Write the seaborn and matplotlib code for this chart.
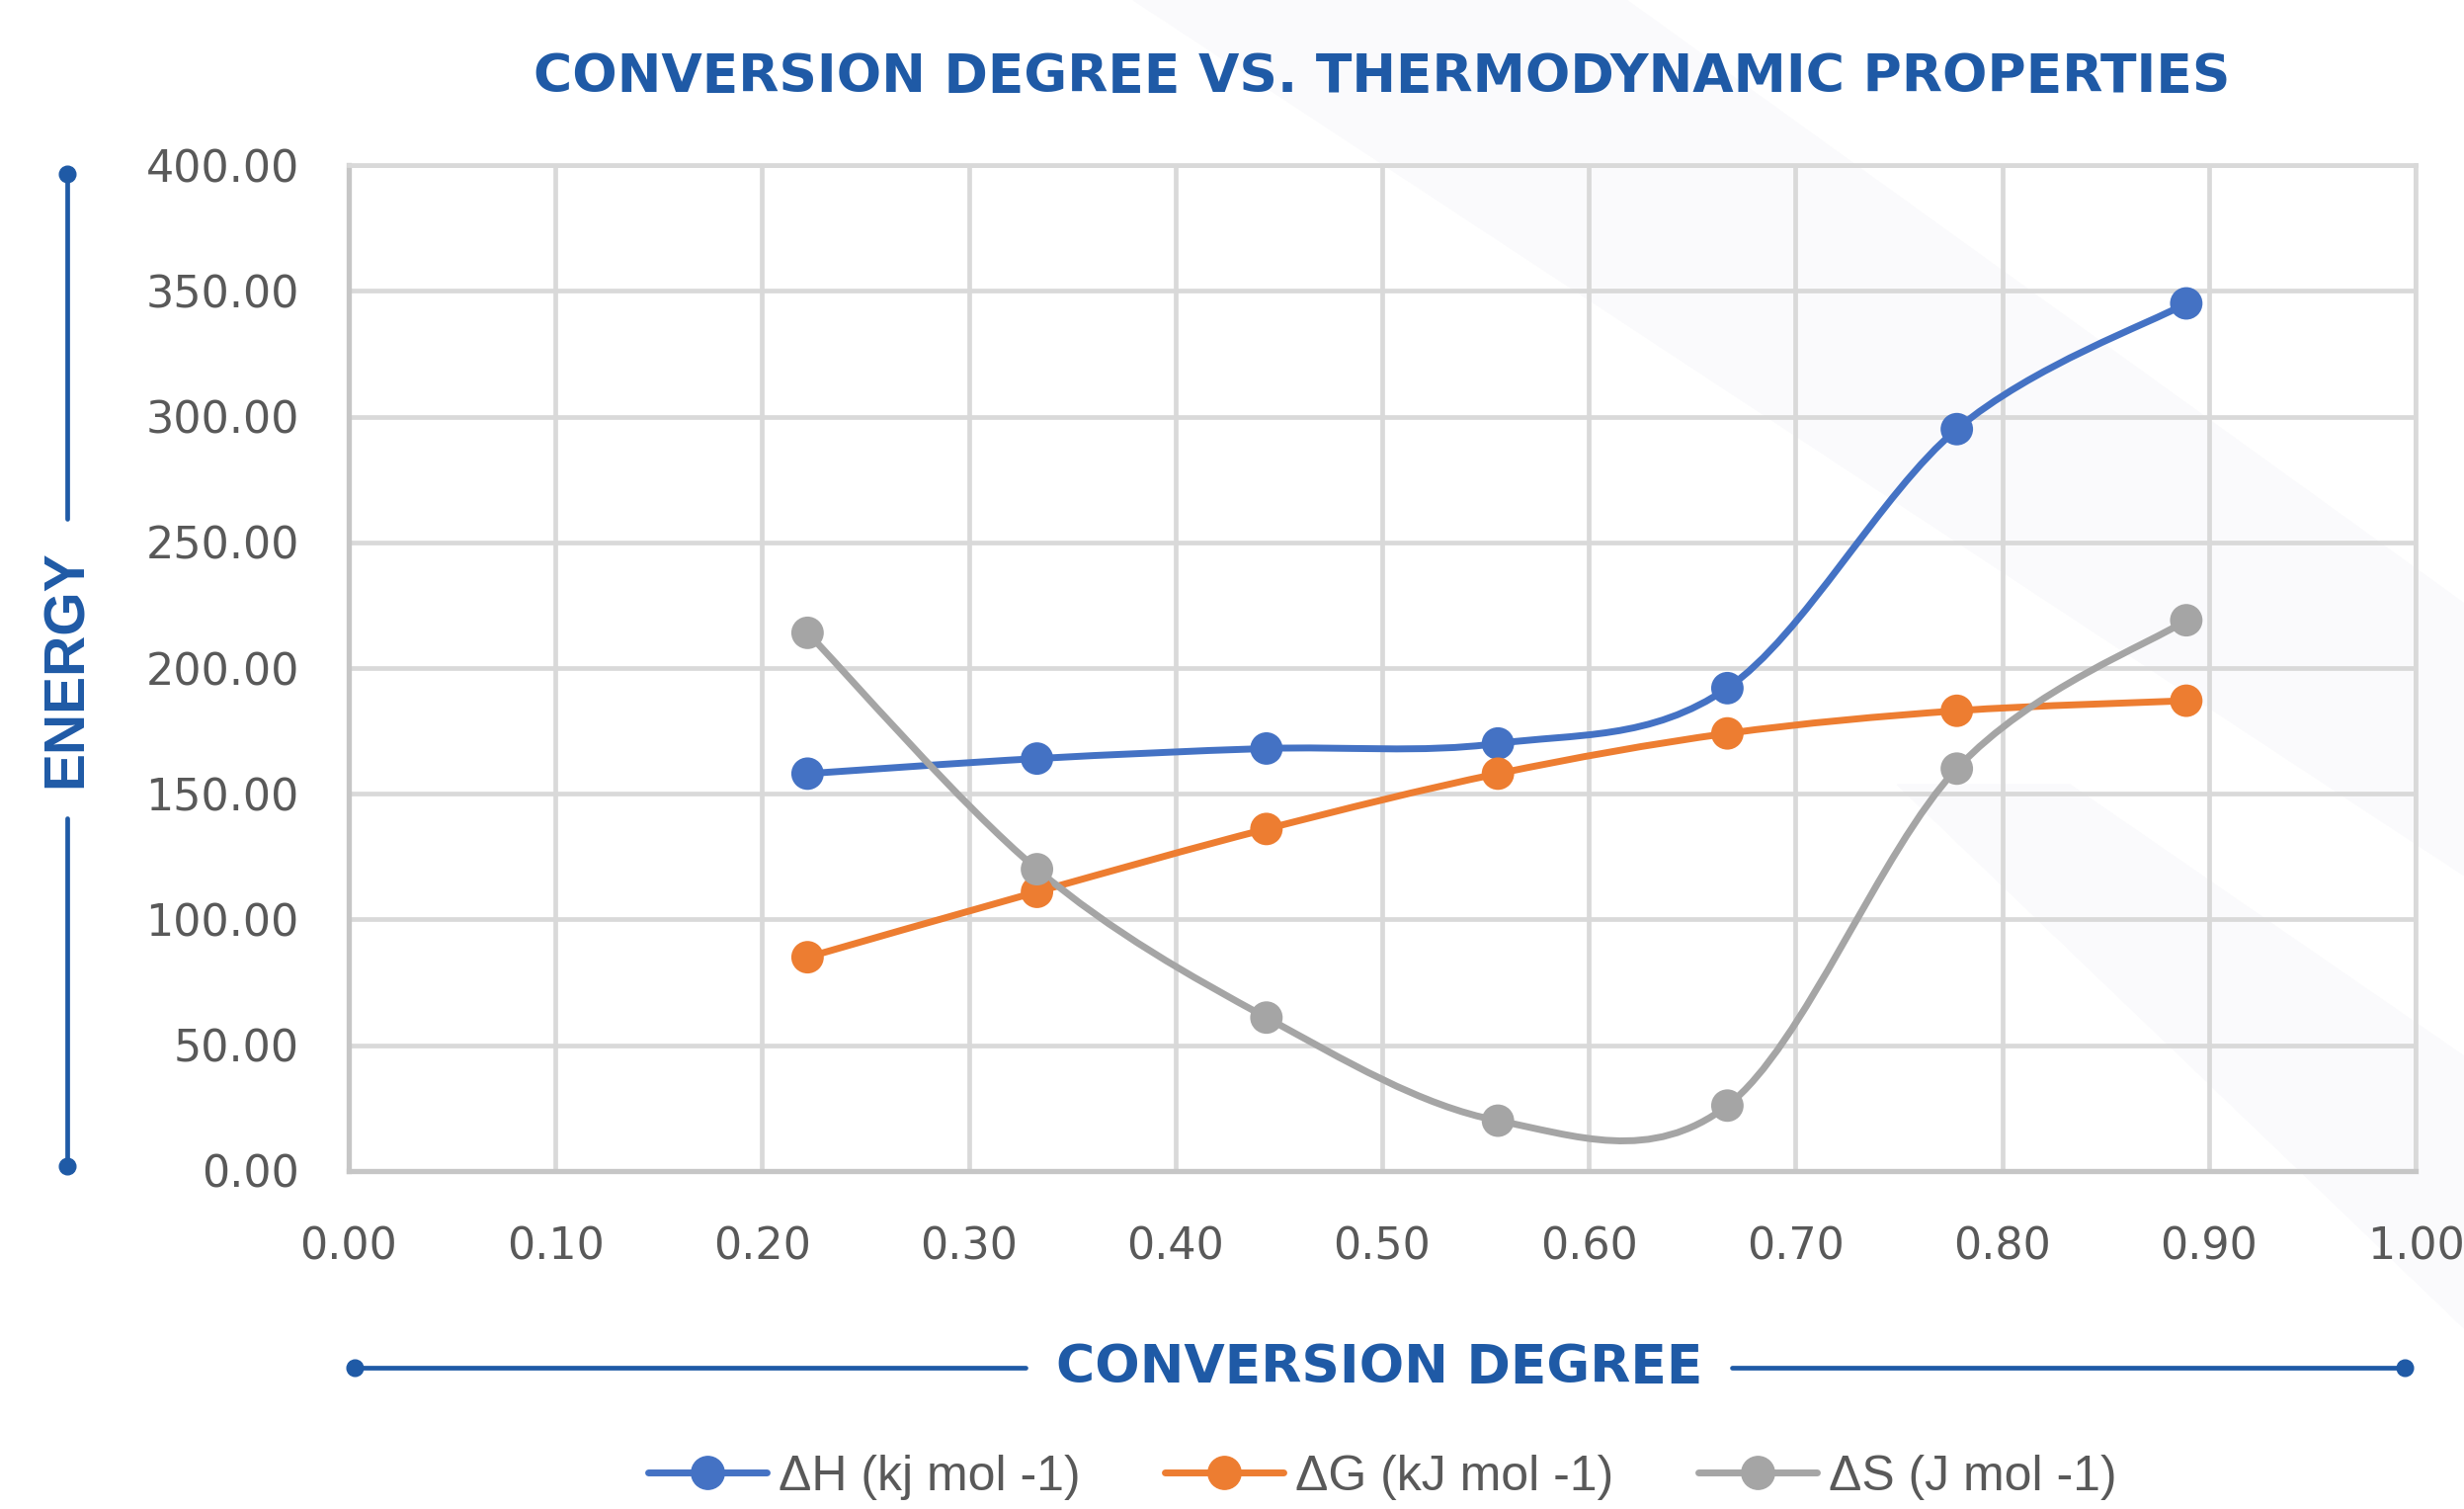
import numpy as np
import pandas as pd
import matplotlib
matplotlib.use("Agg")
import matplotlib.pyplot as plt
import seaborn as sns
from matplotlib.path import Path
from matplotlib.patches import PathPatch, Polygon
from matplotlib.lines import Line2D
from matplotlib import font_manager

# values
conversion = [0.222, 0.333, 0.444, 0.556, 0.667, 0.778, 0.889]
dH = [158, 164, 168, 170, 192, 295, 345]
dG = [85, 111, 136, 158, 174, 183, 187]
dS = [214, 120, 61, 20, 26, 160, 219]
series_names = ["ΔH (kj mol -1)", "ΔG (kJ mol -1)", "ΔS (J mol -1)"]
series_colors = ["#4472C4", "#ED7D31", "#A5A5A5"]
x_ticks = [0.0, 0.1, 0.2, 0.3, 0.4, 0.5, 0.6, 0.7, 0.8, 0.9, 1.0]
y_ticks = [0, 50, 100, 150, 200, 250, 300, 350, 400]

title = "CONVERSION DEGREE VS. THERMODYNAMIC PROPERTIES"
xlabel = "CONVERSION DEGREE"
ylabel = "ENERGY"

df = pd.DataFrame({"conversion": conversion * 3,
                   "value": dH + dG + dS,
                   "series": [n for n in series_names for _ in conversion]})

sns.set_theme(style="white")
plt.rcParams["font.family"] = ["DejaVu Sans"]

installed = {f.name for f in font_manager.fontManager.ttflist}
narrow = "Liberation Sans Narrow" if "Liberation Sans Narrow" in installed else "Liberation Sans"

BLUE = "#1f5aa6"
GREY_TXT = "#595959"


def smooth_path(xs, ys):
    # excel-like smoothed line (catmull-rom as bezier)
    pts = np.column_stack([xs, ys]).astype(float)
    n = len(pts)
    verts = [pts[0]]
    codes = [Path.MOVETO]
    for i in range(n - 1):
        p0 = pts[max(i - 1, 0)]
        p1 = pts[i]
        p2 = pts[i + 1]
        p3 = pts[min(i + 2, n - 1)]
        verts += [p1 + (p2 - p0) / 6, p2 - (p3 - p1) / 6, p2]
        codes += [Path.CURVE4] * 3
    return Path(verts, codes)


fig = plt.figure(figsize=(24.94, 15.27), dpi=100)
fig.patch.set_facecolor("white")

# very faint watermark shapes in the background
wm = "#fafafc"
fig.add_artist(Polygon([[0.46, 1.0], [0.66, 1.0], [1.0, 0.60], [1.0, 0.42]],
                       closed=True, transform=fig.transFigure, color=wm, zorder=0))
fig.add_artist(Polygon([[0.77, 0.48], [0.84, 0.48], [1.0, 0.30], [1.0, 0.12]],
                       closed=True, transform=fig.transFigure, color=wm, zorder=0))

ax = fig.add_axes([0.1415, 0.224, 0.8389, 0.6666])
ax.set_facecolor("none")

for name, color in zip(series_names, series_colors):
    sub = df[df["series"] == name]
    ax.add_patch(PathPatch(smooth_path(sub["conversion"], sub["value"]),
                           facecolor="none", edgecolor=color, lw=5, zorder=3,
                           capstyle="round"))

sns.scatterplot(data=df, x="conversion", y="value", hue="series",
                palette=series_colors, s=560, edgecolor="none", linewidth=0,
                ax=ax, zorder=4, legend=False)

ax.set_xlim(0, 1)
ax.set_ylim(0, 400)
ax.set_xticks(x_ticks)
ax.set_yticks(y_ticks)
ax.set_xticklabels([f"{v:.2f}" for v in x_ticks])
ax.set_yticklabels([f"{v:.2f}" for v in y_ticks])
ax.tick_params(axis="both", length=0, labelsize=32, labelcolor=GREY_TXT)
ax.tick_params(axis="x", pad=40)
ax.tick_params(axis="y", pad=36)
ax.set_xlabel("")
ax.set_ylabel("")
ax.grid(True, color="#d9d9d9", lw=3.4, zorder=1)
ax.set_axisbelow(True)
for side in ["top", "right"]:
    ax.spines[side].set_color("#d9d9d9")
    ax.spines[side].set_linewidth(3.4)
for side in ["left", "bottom"]:
    ax.spines[side].set_color("#c6c6c6")
    ax.spines[side].set_linewidth(3.8)

# title and axis titles
fig.text(0.561, 0.949, title, ha="center", va="center", fontsize=38.5,
         fontweight="bold", color=BLUE)
fig.text(0.560, 0.0936, xlabel, ha="center", va="center", fontsize=38.5,
         fontweight="bold", color=BLUE)
fig.text(0.0273, 0.557, ylabel, ha="center", va="center", rotation=90,
         fontsize=41, fontweight="bold", color=BLUE, family=[narrow, "DejaVu Sans"])

# decorative lines with dot ends
def deco(xs, ys, dot_at):
    fig.add_artist(Line2D(xs, ys, transform=fig.transFigure, color=BLUE, lw=3.4))
    fig.add_artist(Line2D([dot_at[0]], [dot_at[1]], transform=fig.transFigure,
                          color=BLUE, marker="o", markersize=12, lw=0))

deco([0.0273, 0.0273], [0.885, 0.656], (0.0273, 0.885))
deco([0.0273, 0.0273], [0.458, 0.227], (0.0273, 0.227))
deco([0.144, 0.416], [0.0936, 0.0936], (0.144, 0.0936))
deco([0.703, 0.976], [0.0936, 0.0936], (0.976, 0.0936))

handles = [Line2D([], [], color=c, lw=5, marker="o", markersize=24)
           for c in series_colors]
fig.legend(handles, series_names, loc="center", bbox_to_anchor=(0.561, 0.021),
           ncol=3, frameon=False, handlelength=2.4, handletextpad=0.25,
           columnspacing=1.7, prop={"family": [narrow, "DejaVu Sans"], "size": 36},
           labelcolor=GREY_TXT, borderpad=0.1)

fig.savefig("out.png", dpi=100)
